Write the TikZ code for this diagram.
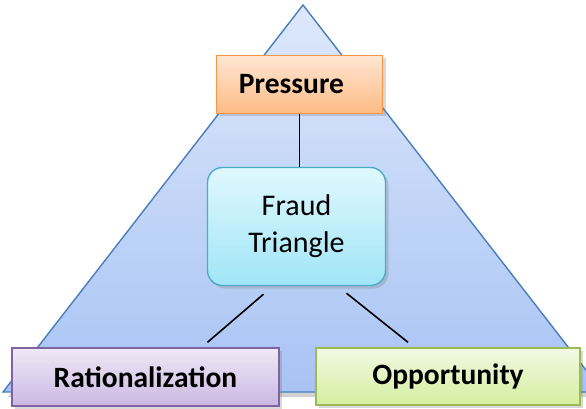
\documentclass[tikz,border=0pt]{standalone}
\usepackage{fontspec}
\setmainfont{Carlito}
\usetikzlibrary{shadows}

\definecolor{triborder}{HTML}{4A7EBB}
\definecolor{tritop}{HTML}{DDE8FB}
\definecolor{tribottom}{HTML}{A8C3F4}
\definecolor{pressborder}{HTML}{F79646}
\definecolor{presstop}{HTML}{FFE6D3}
\definecolor{pressbottom}{HTML}{FDBB85}
\definecolor{fraudborder}{HTML}{4BACC6}
\definecolor{fraudtop}{HTML}{E0F8FD}
\definecolor{fraudbottom}{HTML}{A0E5F7}
\definecolor{ratborder}{HTML}{8064A2}
\definecolor{rattop}{HTML}{EFE9F6}
\definecolor{ratbottom}{HTML}{CBB7E3}
\definecolor{oppborder}{HTML}{9BBB59}
\definecolor{opptop}{HTML}{F2F9E5}
\definecolor{oppbottom}{HTML}{D5EF9E}

\tikzset{
	corner/.style={draw=#1border, top color=#1top, bottom color=#1bottom,
		line width=1.4pt, inner sep=0pt, align=center,
		drop shadow={shadow xshift=3pt, shadow yshift=-3pt, opacity=.3, fill=black!50},
		font=\fontsize{29.5}{34}\selectfont\bfseries},
	link/.style={line width=1.6pt}
}

\begin{document}
\begin{tikzpicture}[x=1pt, y=-1pt]
	\useasboundingbox (0,0) rectangle (586,409);
	\clip (0,0) rectangle (586,409);

	\fill[black!30, opacity=.6] (306,9) -- (8,397) -- (606,397) -- cycle;
	\draw[triborder, line width=1.4pt, top color=tritop, bottom color=tribottom]
		(303,5) -- (3,392) -- (603,392) -- cycle;

	\node[corner=press, minimum width=166pt, minimum height=58pt] (pressure) at (299.5,84.5) {Pressure\hspace{16pt}};
	\node[corner=fraud, rounded corners=15pt, minimum width=178pt, minimum height=118pt,
		font=\fontsize{30}{37}\selectfont] (fraud) at (296.5,226.5) {Fraud\\Triangle};
	\node[corner=rat, minimum width=267pt, minimum height=58pt] (ration) at (145.5,377) {Rationalization};
	\node[corner=opp, minimum width=264pt, minimum height=57pt] (opport) at (448,376.5) {Opportunity};

	\draw[link] (pressure.south) -- (pressure.south |- fraud.north);
	\draw[link] ([xshift=-33pt, yshift=-8pt]fraud.south) -- ([xshift=62pt, yshift=5pt]ration.north);
	\draw[link] ([xshift=50pt, yshift=-7pt]fraud.south) -- ([xshift=-40pt, yshift=5pt]opport.north);
\end{tikzpicture}
\end{document}
